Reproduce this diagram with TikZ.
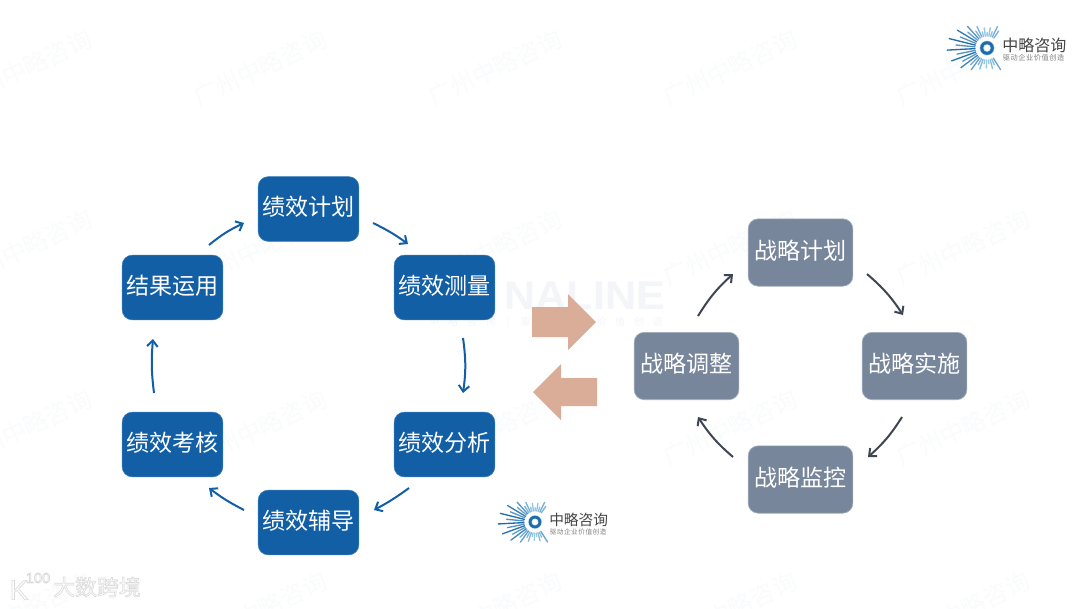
\documentclass[tikz,border=0pt]{standalone}
\usepackage{fontspec}
\setmainfont{Noto Sans CJK SC}
\newfontfamily\latinwm{Liberation Sans}
\newfontfamily\cjkspaced[LetterSpace=89]{Noto Sans CJK SC}
\newfontfamily\cjksub[LetterSpace=8]{Noto Sans CJK SC}
\usetikzlibrary{arrows.meta,calc}
\definecolor{boxblue}{HTML}{125FA6}
\definecolor{boxgrey}{HTML}{78869B}
\definecolor{edgegrey}{HTML}{A3AEBD}
\definecolor{edgeblue}{HTML}{3C7DBB}
\definecolor{darkarrow}{HTML}{3F4653}
\definecolor{bigarrow}{HTML}{D9AD97}
\definecolor{wmcol}{HTML}{FAFBFC}
\definecolor{nawm}{HTML}{F3F5F8}
\definecolor{logotext}{HTML}{444444}
\definecolor{raydark}{HTML}{1F6AA8}
\definecolor{raylight}{HTML}{9ACBE6}
\tikzset{
  bluebox/.style={rectangle,rounded corners=7.5pt,fill=boxblue,draw=edgeblue,line width=.4pt,text=white,
    minimum width=75.5pt,minimum height=48.5pt,inner sep=0pt,text height=14pt,text depth=4pt,font=\fontsize{17.3pt}{20pt}\selectfont},
  greybox/.style={rectangle,rounded corners=7.5pt,fill=boxgrey,draw=edgegrey,line width=.5pt,text=white,
    minimum width=78.5pt,minimum height=50.5pt,inner sep=0pt,text height=14pt,text depth=4pt,font=\fontsize{17.3pt}{20pt}\selectfont},
  blueflow/.style={draw=boxblue,line width=1.5pt,-{Straight Barb[length=4.5pt,width=8pt]}},
  greyflow/.style={draw=darkarrow,line width=1.5pt,-{Straight Barb[length=4.5pt,width=8pt]}},
  watermark/.style={text=wmcol,rotate=25,inner sep=0pt,font=\fontsize{18pt}{20pt}\selectfont},
  bigshape/.style={fill=bigarrow,draw=none},
  ray/.style={line width=1pt,line cap=round},
  logoword/.style={text=logotext,inner sep=0pt,anchor=west},
  softmark/.style={inner sep=0pt,text=white},
}
\newcommand{\zlogo}[6]{%
  % #1,#2 ring centre; #3,#4 word left and y; #5 scale; #6 name
  \begin{scope}[shift={(#1,#2)}]
    \foreach \i in {0,...,29}{
      \pgfmathsetmacro\a{58+\i*8.5}
      \pgfmathsetmacro\rr{(mod(\i,2)==0?1:0.78)*(#5)*(20+20*abs(cos(\a))^2)}
      \pgfmathsetmacro\mixv{(mod(\i,2)==0?100:60)*abs(cos(\a))^1.5}
      \draw[ray,raydark!\mixv!raylight] (\a:{12*(#5)}) -- (\a:\rr);
    }
    \fill[raylight] (0,0) circle ({7.4*(#5)});
    \fill[raydark] (0,0) circle ({6.8*(#5)});
    \fill[raylight!60] (0,0) circle ({3.8*(#5)});
    \fill[white] (0,0) circle ({3*(#5)});
  \end{scope}
  \pgfmathsetmacro\wsz{#5*12}
  \pgfmathsetmacro\ssz{#5*5.4}
  \node[logoword,font=\fontsize{\wsz pt}{14pt}\selectfont] (#6word) at (#3,#4) {中略咨询};
  \node[logoword,font=\cjksub\fontsize{\ssz pt}{6pt}\selectfont,text=gray] (#6sub) at ($(#3,#4)+(0.5,{12.5*(#5)})$) {驱动企业价值创造};
}
\begin{document}
\begin{tikzpicture}[x=.75pt,y=-.75pt]
\useasboundingbox (0,0) rectangle (1080,608);
\fill[white] (0,0) rectangle (1080,608);
% tiled watermarks
\foreach \wy/\wr in {68/a,248/b,428/c,610/d}{
  \foreach \wx/\wc in {25/a,260/b,495/c,730/d,963/e}{
    \node[watermark] (wm\wr\wc) at (\wx,\wy) {广州中略咨询};
  }
}
\node[text=nawm,inner sep=0pt,font=\latinwm\bfseries\fontsize{30pt}{32pt}\selectfont,xscale=1.08] (naline) at (585,296) {NALINE};
\node[text=nawm,inner sep=0pt,font=\cjkspaced\fontsize{7.5pt}{9pt}\selectfont] (nasub) at (546,323) {中略咨询 | 驱动企业价值创造};
% big arrows
\fill[bigshape] (532,307) -- (568,307) -- (568,294) -- (596,322) -- (568,350) -- (568,337) -- (532,337) -- cycle;
\fill[bigshape] (597,378) -- (561,378) -- (561,364) -- (533,392) -- (561,420) -- (561,406) -- (597,406) -- cycle;
% left cycle
\node[bluebox] (plan) at (308.5,209) {绩效计划};
\node[bluebox] (meas) at (444.5,287.5) {绩效测量};
\node[bluebox] (anal) at (444.5,444.5) {绩效分析};
\node[bluebox] (coach) at (308.5,522.5) {绩效辅导};
\node[bluebox] (exam) at (172.5,444.5) {绩效考核};
\node[bluebox] (resu) at (172.5,287.5) {结果运用};
\draw[blueflow] ([shift={(36.5,-42.5)}]resu.center) to[bend left=7] ([shift={(-64.5,14)}]plan.center);
\draw[blueflow] ([shift={(64.5,14)}]plan.center) to[bend left=5] ([shift={(-36.5,-43.5)}]meas.center);
\draw[blueflow] ([shift={(18.5,50.5)}]meas.center) to[bend left=8] ([shift={(18.5,-51.5)}]anal.center);
\draw[blueflow] ([shift={(-35.5,43.5)}]anal.center) to[bend left=4] ([shift={(65.5,-12.5)}]coach.center);
\draw[blueflow] ([shift={(-64.5,-12.5)}]coach.center) to[bend left=5] ([shift={(36.5,43.5)}]exam.center);
\draw[blueflow] ([shift={(-18.5,-51.5)}]exam.center) to[bend left=6] ([shift={(-19.5,51.5)}]resu.center);
% right cycle
\node[greybox] (sp) at (800.5,252.5) {战略计划};
\node[greybox] (si) at (914.5,366) {战略实施};
\node[greybox] (sm) at (800.5,479.5) {战略监控};
\node[greybox] (sa) at (686.5,366) {战略调整};
\draw[greyflow] ([shift={(11.5,-50)}]sa.center) to[bend left=8] ([shift={(-67.5,21.5)}]sp.center);
\draw[greyflow] ([shift={(66.5,21.5)}]sp.center) to[bend left=8] ([shift={(-11.5,-51)}]si.center);
\draw[greyflow] ([shift={(-12.5,51)}]si.center) to[bend left=8] ([shift={(67.5,-22.5)}]sm.center);
\draw[greyflow] ([shift={(-67.5,-22.5)}]sm.center) to[bend left=8] ([shift={(11.5,51)}]sa.center);
% logos
\zlogo{987}{48}{1002}{45.5}{1}{top}
\zlogo{535}{522}{549}{520}{.92}{mid}
% bottom-left mark
\node[softmark,font=\fontsize{16.4pt}{18pt}\selectfont] (bigk) at (97,587)
  {\special{pdf:code 2 Tr 0.5 w 0.86 G}大数跨境\special{pdf:code 0 Tr}};
\node[softmark,font=\latinwm\fontsize{21pt}{22pt}\selectfont] (kmark) at (19,590)
  {\special{pdf:code 2 Tr 0.5 w 0.86 G}K\special{pdf:code 0 Tr}};
\node[softmark,font=\latinwm\fontsize{11pt}{12pt}\selectfont] (hmark) at (38,578)
  {\special{pdf:code 2 Tr 0.5 w 0.86 G}100\special{pdf:code 0 Tr}};
\end{tikzpicture}
\end{document}
